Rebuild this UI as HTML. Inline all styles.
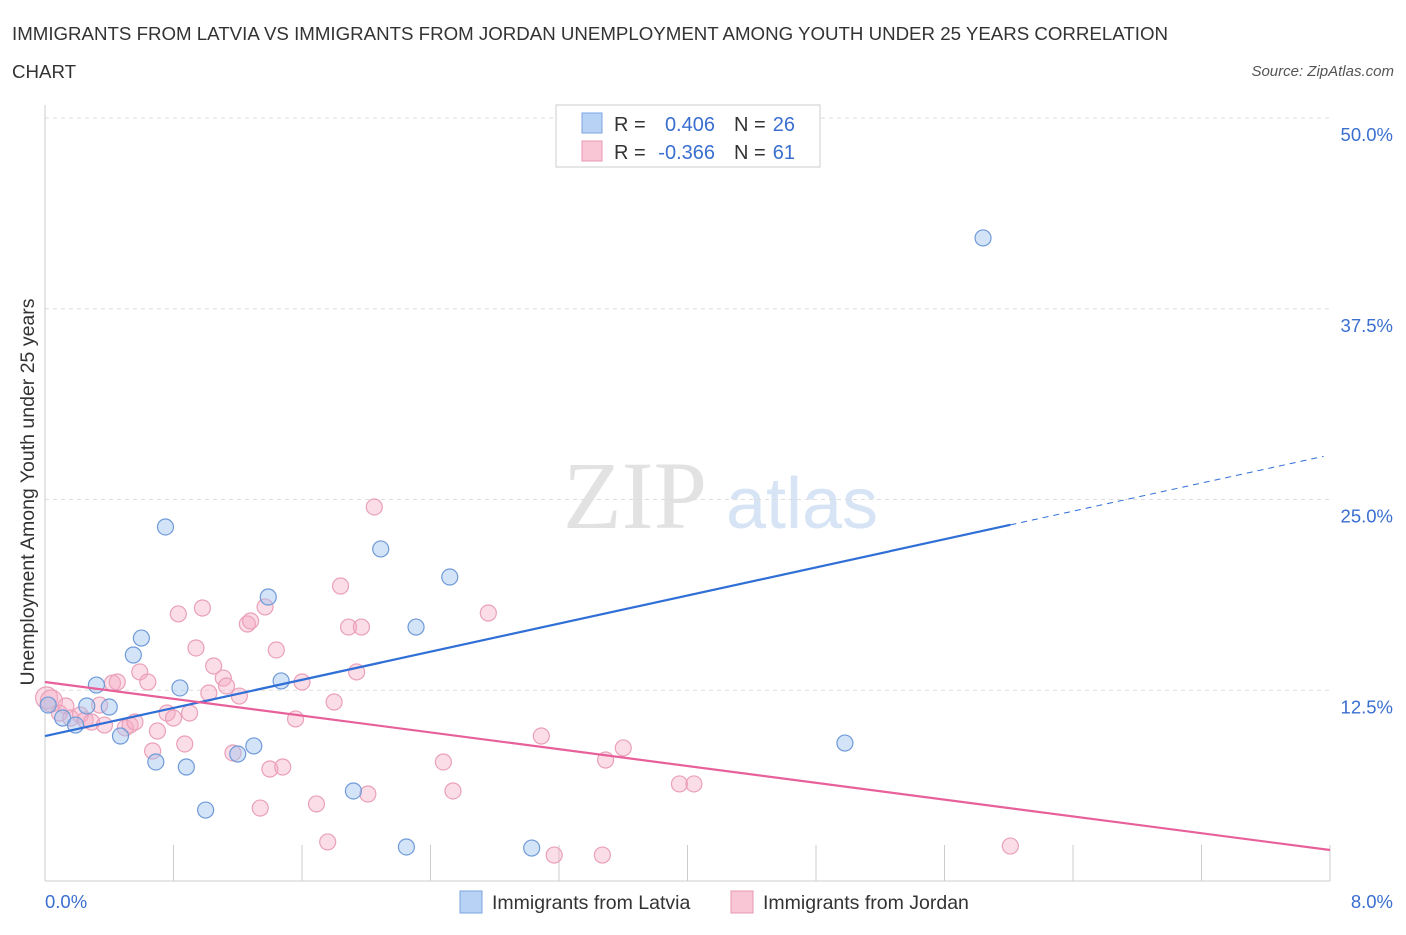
<!DOCTYPE html>
<html><head><meta charset="utf-8"><style>
body{margin:0;background:#fff;font-family:"Liberation Sans",sans-serif;}
</style></head><body>
<svg width="1406" height="930" xmlns="http://www.w3.org/2000/svg" font-family="Liberation Sans, sans-serif">
<text x="12" y="40" font-size="18.7" fill="#333">IMMIGRANTS FROM LATVIA VS IMMIGRANTS FROM JORDAN UNEMPLOYMENT AMONG YOUTH UNDER 25 YEARS CORRELATION</text>
<text x="12" y="78" font-size="18.7" fill="#333">CHART</text>
<text x="1394" y="76" font-size="15" fill="#555" font-style="italic" text-anchor="end">Source: ZipAtlas.com</text>
<text x="635" y="528" font-size="96" fill="#e2e2e2" font-family="Liberation Serif, serif" text-anchor="middle">ZIP</text>
<text x="802" y="528" font-size="72" fill="#d6e4f5" text-anchor="middle">atlas</text>
<g id="grid"></g><g id="axes"></g><g id="marks"></g>
<text x="34" y="492" font-size="19.5" fill="#333" text-anchor="middle" transform="rotate(-90 34 492)">Unemployment Among Youth under 25 years</text>
<text x="45" y="908" font-size="18.5" fill="#3a6fd0">0.0%</text>
<text x="1393" y="908" font-size="18.5" fill="#3a6fd0" text-anchor="end">8.0%</text>
<g>
<rect x="556" y="105" width="264" height="62" fill="#fff" stroke="#ccc"/>
<rect x="582" y="113" width="20" height="20" fill="#b8d2f5" stroke="#7aa4e0"/>
<rect x="582" y="141" width="20" height="20" fill="#f8c6d4" stroke="#e898b0"/>
<text x="614" y="131" font-size="20" fill="#333">R = </text><text x="715" y="131" font-size="20" fill="#3a6fd0" text-anchor="end">0.406</text>
<text x="734" y="131" font-size="20" fill="#333">N = </text><text x="795" y="131" font-size="20" fill="#3a6fd0" text-anchor="end">26</text>
<text x="614" y="159" font-size="20" fill="#333">R = </text><text x="715" y="159" font-size="20" fill="#3a6fd0" text-anchor="end">-0.366</text>
<text x="734" y="159" font-size="20" fill="#333">N = </text><text x="795" y="159" font-size="20" fill="#3a6fd0" text-anchor="end">61</text>
</g>
<g>
<rect x="460" y="891" width="22" height="22" fill="#b8d2f5" stroke="#7aa4e0"/>
<text x="492" y="909" font-size="19.5" fill="#333">Immigrants from Latvia</text>
<rect x="731" y="891" width="22" height="22" fill="#f8c6d4" stroke="#e898b0"/>
<text x="763" y="909" font-size="19.5" fill="#333">Immigrants from Jordan</text>
</g>
</svg>
<script>
const yTicks=[12.5,25,37.5,50];
const yTickLabels=["12.5%","25.0%","37.5%","50.0%"];
const latviaX=[0.02,0.11,0.19,0.26,0.32,0.40,0.47,0.55,0.60,0.69,0.75,0.84,0.88,1.00,1.20,1.30,1.39,1.47,1.92,2.09,2.25,2.31,2.52,3.03,4.98,5.84];
const latviaY=[11.53,10.68,10.22,11.47,12.84,11.40,9.50,14.81,15.92,7.80,23.20,12.65,7.47,4.65,8.32,8.85,18.61,13.11,5.90,21.76,2.23,16.64,19.92,2.16,9.04,42.14];
const jordanX=[0.01,0.04,0.09,0.13,0.16,0.22,0.25,0.29,0.34,0.37,0.42,0.45,0.50,0.53,0.56,0.59,0.64,0.67,0.70,0.76,0.80,0.83,0.87,0.90,0.94,0.98,1.02,1.05,1.11,1.13,1.17,1.21,1.26,1.28,1.34,1.37,1.40,1.44,1.48,1.56,1.60,1.69,1.76,1.80,1.84,1.89,1.94,1.97,2.01,2.05,2.48,2.54,2.76,3.09,3.17,3.47,3.49,3.60,3.95,4.04,6.01];
const jordanY=[12.0,11.8,11.0,11.47,10.68,10.88,10.55,10.42,11.53,10.22,12.97,13.04,10.03,10.22,10.42,13.70,13.04,8.52,9.83,11.01,10.68,17.50,8.98,11.01,15.27,17.89,12.32,14.09,13.30,12.78,8.39,12.12,16.84,17.04,4.78,17.96,7.34,15.14,7.47,10.62,13.04,5.05,2.56,11.73,19.33,16.64,13.70,16.64,5.70,24.51,7.80,5.90,17.56,9.50,1.70,1.70,7.93,8.72,6.36,6.36,2.29];
const blueTrend=[9.50,27.92], blueSolidEnd=6.01, pinkTrend=[13.04,2.03];
const NS="http://www.w3.org/2000/svg";
const X=v=>45+v/8*1285, Y=v=>881-v/50*763;
function mk(t,a,p){const e=document.createElementNS(NS,t);for(const k in a)e.setAttribute(k,a[k]);document.getElementById(p).appendChild(e);return e;}
yTicks.forEach((t,i)=>{
 const l=mk('line',{x1:45,x2:1330,y1:Y(t),y2:Y(t),stroke:'#ddd','stroke-dasharray':'4 4'},'grid');
 
 
 const tx=mk('text',{x:1393,y:Y(t)+23,'font-size':18.5,fill:'#3a6fd0','text-anchor':'end'},'grid');
 tx.textContent=yTickLabels[i];
 
 
});
const ax=mk('line',{x1:45,x2:1330,y1:881,y2:881,stroke:'#ccc'},'axes');


const ay=mk('line',{x1:45,x2:45,y1:105,y2:881,stroke:'#ccc'},'axes');


for(let i=0;i<=10;i++){const t=mk('line',{x1:X(i*0.8),x2:X(i*0.8),y1:845,y2:881,stroke:'#ccc'},'axes');
 
 }
jordanX.forEach((v,i)=>{const r=i<2?11:8;const c=mk('circle',{cx:X(v),cy:Y(jordanY[i]),r:r,fill:'rgba(244,170,195,0.4)',stroke:'#eaa0b8','stroke-width':1.2},'marks');
 
 });
latviaX.forEach((v,i)=>{const c=mk('circle',{cx:X(v),cy:Y(latviaY[i]),r:8,fill:'rgba(160,195,240,0.45)',stroke:'#6f9ad8','stroke-width':1.2},'marks');
 
 });
const bv=x=>blueTrend[0]+(blueTrend[1]-blueTrend[0])*x/8;
const b1=mk('line',{x1:X(0),y1:Y(bv(0)),x2:X(blueSolidEnd),y2:Y(bv(blueSolidEnd)),stroke:'#2f6fd6','stroke-width':2.2},'marks');


const b2=mk('line',{x1:X(blueSolidEnd),y1:Y(bv(blueSolidEnd)),x2:X(7.96),y2:Y(bv(7.96)),stroke:'#2f6fd6','stroke-width':1,'stroke-dasharray':'6 5'},'marks');


const p1=mk('line',{x1:X(0),y1:Y(pinkTrend[0]),x2:X(8),y2:Y(pinkTrend[1]),stroke:'#e8609a','stroke-width':2.2},'marks');


</script>
</body></html>
